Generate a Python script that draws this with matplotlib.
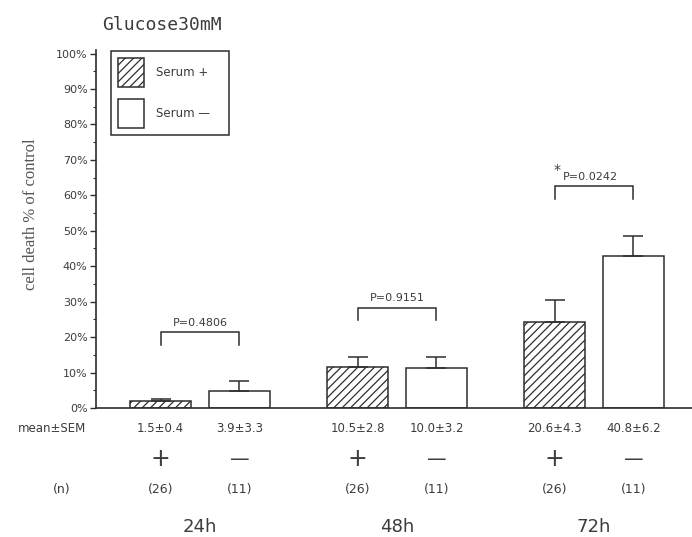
import matplotlib
matplotlib.use("Agg")
import matplotlib.pyplot as plt
import matplotlib.transforms as mtransforms
import numpy as np

# ---------------- data ----------------
groups = ["24h", "48h", "72h"]
serum_plus = [2.0, 11.6, 24.3]      # bar heights as drawn (%)
serum_minus = [4.9, 11.4, 42.8]
err_plus = [0.5, 2.7, 6.1]
err_minus = [2.8, 3.0, 5.7]
mean_sem_plus = ["1.5±0.4", "10.5±2.8", "20.6±4.3"]
mean_sem_minus = ["3.9±3.3", "10.0±3.2", "40.8±6.2"]
n_plus = ["(26)", "(26)", "(26)"]
n_minus = ["(11)", "(11)", "(11)"]
p_values = ["P=0.4806", "P=0.9151", "P=0.0242"]
p_significant = [False, False, True]
bracket_heights = [21.4, 28.3, 62.5]
yticks = [0, 10, 20, 30, 40, 50, 60, 70, 80, 90, 100]
ytick_labels = [f"{t}%" for t in yticks]
legend_labels = ["Serum +", "Serum \u2014"]

# ---------------- style ----------------
LINE = "#2e2e2e"
TEXT = "#3c3c3c"
plt.rcParams["hatch.linewidth"] = 0.9
plt.rcParams["hatch.color"] = LINE

W, H = 692, 537
fig = plt.figure(figsize=(W / 100, H / 100), dpi=100)
fig.patch.set_facecolor("white")
ax = fig.add_axes([96 / W, 1 - 408 / H, (W - 96) / W, (408 - 50) / H])

x = np.arange(len(groups))
off = 0.2
bw = 0.31
xp = x - off
xm = x + off

bars_p = ax.bar(xp, serum_plus, width=bw, facecolor="white", edgecolor=LINE,
                linewidth=1.1, hatch="////", zorder=2)
bars_m = ax.bar(xm, serum_minus, width=bw, facecolor="white", edgecolor=LINE,
                linewidth=1.1, zorder=2)

zeros = [0] * len(groups)
ax.errorbar(xp, serum_plus, yerr=[zeros, err_plus], fmt="none", ecolor=LINE,
            elinewidth=1.1, capsize=7, capthick=1.1, zorder=3)
ax.errorbar(xm, serum_minus, yerr=[zeros, err_minus], fmt="none", ecolor=LINE,
            elinewidth=1.1, capsize=7, capthick=1.1, zorder=3)

# significance brackets
leg = 3.6
for i, h in enumerate(bracket_heights):
    ax.plot([xp[i], xp[i], xm[i], xm[i]], [h - leg, h, h, h - leg],
            color=LINE, lw=1.1, solid_joinstyle="miter")
    if p_significant[i]:
        ax.text(x[i] - 0.02, h + 1.3, p_values[i], ha="center", va="bottom",
                fontsize=8, color=TEXT)
        ax.text(x[i] - 0.19, h + 2.6, "*", ha="center", va="bottom",
                fontsize=10, color=TEXT)
    else:
        ax.text(x[i], h + 1.3, p_values[i], ha="center", va="bottom",
                fontsize=8, color=TEXT)

# axes formatting
ax.set_xlim(-0.528, 2.497)
ax.set_ylim(0, 101)
ax.set_yticks(yticks)
ax.set_yticklabels(ytick_labels, fontsize=8, color=TEXT)
ax.set_yticks(np.arange(5, 100, 10), minor=True)
ax.tick_params(axis="y", which="major", direction="out", length=4, width=1,
               color=LINE, pad=2)
ax.tick_params(axis="y", which="minor", direction="out", length=2, width=0.8,
               color=LINE)
ax.set_xticks([])
for s in ["top", "right"]:
    ax.spines[s].set_visible(False)
for s in ["left", "bottom"]:
    ax.spines[s].set_color(LINE)
    ax.spines[s].set_linewidth(1.2)

# legend (box approx. x 111-229 px, y 51-135 px)
leg_obj = ax.legend([bars_p, bars_m], legend_labels, loc="upper left",
                    bbox_to_anchor=(111 / W, 1 - 135 / H, 118 / W, 84 / H),
                    bbox_transform=fig.transFigure, borderaxespad=0,
                    mode="expand",
                    fontsize=8.5, handlelength=2.2, handleheight=3.4,
                    labelspacing=1.02, borderpad=0.6, handletextpad=1.02,
                    fancybox=False, framealpha=1, edgecolor=LINE,
                    labelcolor=TEXT)
leg_obj.get_frame().set_linewidth(1.1)

# texts below axis
trans = mtransforms.blended_transform_factory(ax.transData, fig.transFigure)
def fy(px):
    return 1 - px / H

for i in range(len(groups)):
    ax.text(xp[i], fy(429), mean_sem_plus[i], transform=trans, ha="center",
            va="center", fontsize=8.5, color=TEXT)
    ax.text(xm[i], fy(429), mean_sem_minus[i], transform=trans, ha="center",
            va="center", fontsize=8.5, color=TEXT)
    ax.text(xp[i], fy(459), "+", transform=trans, ha="center", va="center",
            fontsize=17, color=TEXT)
    ax.text(xm[i], fy(459), "\u2014", transform=trans, ha="center", va="center",
            fontsize=14, color=TEXT)
    ax.text(xp[i], fy(489), n_plus[i], transform=trans, ha="center",
            va="center", fontsize=9, color=TEXT)
    ax.text(xm[i], fy(489), n_minus[i], transform=trans, ha="center",
            va="center", fontsize=9, color=TEXT)
    ax.text(x[i], fy(527), groups[i], transform=trans, ha="center",
            va="center", fontsize=13, color=TEXT)

fig.text(52 / W, fy(429), "mean±SEM", ha="center", va="center", fontsize=8.5,
         color=TEXT)
fig.text(62 / W, fy(489), "(n)", ha="center", va="center", fontsize=9,
         color=TEXT)

# title and y label
fig.text(102 / W, fy(25), "Glucose30mM", ha="left", va="center",
         fontsize=13, family="DejaVu Sans Mono", color=TEXT)
fig.text(31 / W, fy(214), "cell death % of control", rotation=90,
         ha="center", va="center", fontsize=12, family="Liberation Serif",
         color="#555555")

fig.savefig("out.png", dpi=100, facecolor="white")
